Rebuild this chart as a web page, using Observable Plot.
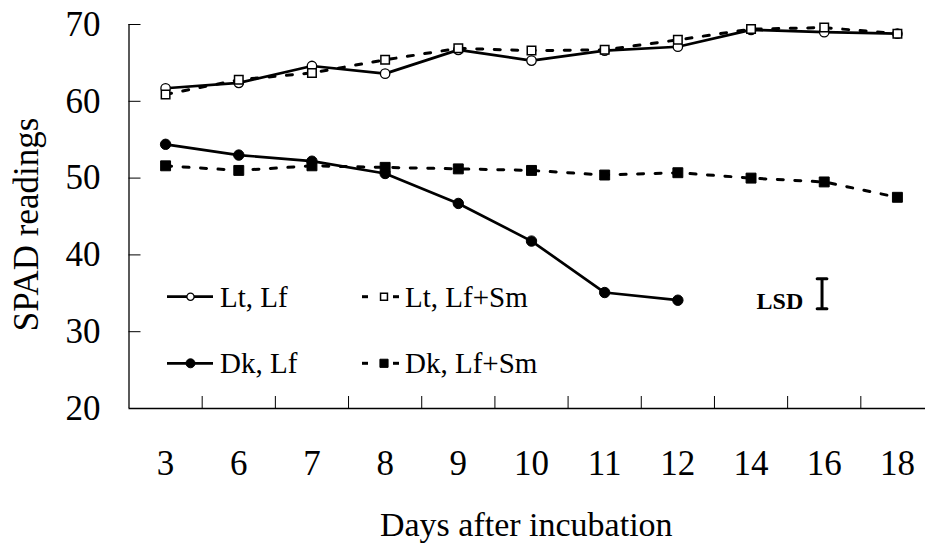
<!DOCTYPE html>
<html>
<head>
<meta charset="utf-8">
<script src="https://cdn.jsdelivr.net/npm/d3@7"></script>
<script src="https://cdn.jsdelivr.net/npm/@observablehq/plot@0.6"></script>
<style>
  html, body { margin: 0; padding: 0; background: white; }
</style>
</head>
<body>
<div id="chart"></div>
<script>
// ---- data ----
const days = ["3", "6", "7", "8", "9", "10", "11", "12", "14", "16", "18"];
const seriesNames = ["Lt, Lf", "Lt, Lf+Sm", "Dk, Lf", "Dk, Lf+Sm"];
const ltLf   = [61.7, 62.4, 64.6, 63.6, 66.7, 65.3, 66.6, 67.1, 69.3, 69.0, 68.8];
const ltLfSm = [60.9, 62.8, 63.7, 65.4, 66.9, 66.6, 66.7, 68.0, 69.4, 69.6, 68.8];
const dkLf   = [54.4, 53.0, 52.2, 50.6, 46.7, 41.8, 35.1, 34.1];
const dkLfSm = [51.6, 51.0, 51.6, 51.4, 51.2, 51.0, 50.4, 50.7, 50.0, 49.5, 47.5];
const yTicks = [20, 30, 40, 50, 60, 70];
const lsdDay = "16";
const lsdLow = 33.0;
const lsdHigh = 36.9;
const lsdLabel = "LSD";
const xTitle = "Days after incubation";
const yTitle = "SPAD readings";

// ---- layout ----
const FONT = "Liberation Serif, Times New Roman, serif";
const W = 925, H = 544;
const mL = 128.5, mR = 0, mT = 24, mB = 136;
const frameW = W - mL - mR, frameH = H - mT - mB;
const TICK = 12;

const seriesValues = [ltLf, ltLfSm, dkLf, dkLfSm];
const pos = d => days.indexOf(d) + 0.5;
const rows = seriesValues.map((vals, s) =>
  vals.map((v, i) => ({series: seriesNames[s], x: i + 0.5, y: v}))
);

const styles = [
  {dash: null,     symbol: "circle", r: 4.7, fill: "white", sw: 1.3},
  {dash: "6,11.5", symbol: "square", r: 4.8, fill: "white", sw: 1.5},
  {dash: null,     symbol: "circle", r: 5.2, fill: "black", sw: 1},
  {dash: "6,11.5", symbol: "square", r: 5.6, fill: "black", sw: 1}
];

const lineMarks = rows.map((data, s) => Plot.line(data, {
  x: "x", y: "y", stroke: "black",
  strokeWidth: styles[s].dash ? 3 : 2.7,
  strokeDasharray: styles[s].dash || undefined
}));
const dotMarks = rows.map((data, s) => Plot.dot(data, {
  x: "x", y: "y", symbol: styles[s].symbol, r: styles[s].r,
  fill: styles[s].fill, stroke: "black", strokeWidth: styles[s].sw
}));

const hline = {draw(ctx, size) { const w = Math.sqrt(size); ctx.moveTo(-w / 2, 0); ctx.lineTo(w / 2, 0); }};

// legend drawn inside the frame
function legendMark() {
  const g = d3.create("svg:g")
    .attr("font-family", FONT).attr("font-size", 29).attr("text-anchor", "start");
  const colLine = [[167, 213], [362, 399]], colMark = [190.5, 384], colText = [220, 405];
  seriesNames.forEach((name, i) => {
    const col = i % 2, row = Math.floor(i / 2);
    const y = 296.7 + row * 66.6;
    const st = styles[i];
    if (st.dash) {
      g.append("line").attr("x1", colLine[col][0]).attr("x2", colLine[col][0] + 6).attr("y1", y).attr("y2", y)
        .attr("stroke", "black").attr("stroke-width", 3);
      g.append("line").attr("x1", colLine[col][1] - 6).attr("x2", colLine[col][1]).attr("y1", y).attr("y2", y)
        .attr("stroke", "black").attr("stroke-width", 3);
    } else {
      g.append("line").attr("x1", colLine[col][0]).attr("x2", colLine[col][1]).attr("y1", y).attr("y2", y)
        .attr("stroke", "black").attr("stroke-width", 2.7);
    }
    const sym = st.symbol === "circle" ? d3.symbolCircle : d3.symbolSquare;
    const r = st.symbol === "circle" ? (st.fill === "white" ? 3.6 : 4.5) : (st.fill === "white" ? 3.9 : 4.6);
    g.append("path").attr("d", d3.symbol(sym, r * r * Math.PI)())
      .attr("transform", `translate(${colMark[col]},${y})`)
      .attr("fill", st.fill).attr("stroke", "black").attr("stroke-width", st.sw);
    g.append("text").attr("x", colText[col]).attr("y", y + 10)
      .attr("fill", "black").attr("text-anchor", "start").text(name);
  });
  return g.node();
}

const chart = Plot.plot({
  width: W, height: H,
  marginLeft: mL, marginRight: mR, marginTop: mT, marginBottom: mB,
  style: {fontFamily: FONT, background: "white", color: "black"},
  x: {domain: [0, days.length], range: [mL, mL + days.length * (805 / 11)], axis: null},
  y: {domain: [20, 70], axis: null},
  marks: [
    // axes lines
    Plot.ruleX([0], {stroke: "black", strokeWidth: 1.3}),
    Plot.ruleY([20], {stroke: "black", strokeWidth: 1.6}),
    // inward ticks
    Plot.tickX(d3.range(1, days.length), {x: d => d, stroke: "black", strokeWidth: 1, insetTop: frameH - TICK}),
    Plot.tickY(yTicks.filter(d => d > 20), {y: d => d, stroke: "black", strokeWidth: 1, insetRight: frameW - TICK}),
    // tick labels
    Plot.axisX(days.map(pos), {tickSize: 0, tickPadding: 42, fontSize: 35, tickFormat: d => days[Math.floor(d)], label: null}),
    Plot.axisY(yTicks, {tickSize: 0, tickPadding: 28.5, fontSize: 35, label: null}),
    // axis titles
    Plot.text([yTitle], {frameAnchor: "left", rotate: -90, textAnchor: "middle", lineAnchor: "middle",
      dx: 26 - mL, dy: 8, fontSize: 35, fill: "black"}),
    Plot.text([xTitle], {frameAnchor: "bottom", textAnchor: "middle", lineAnchor: "middle",
      dx: -1, dy: 116.5, fontSize: 34, fill: "black"}),
    // series
    ...lineMarks,
    ...dotMarks,
    // LSD bar
    Plot.ruleX([lsdDay], {x: d => pos(d) - 0.03, y1: lsdLow, y2: lsdHigh, stroke: "black", strokeWidth: 3}),
    Plot.dot([lsdLow, lsdHigh], {x: () => pos(lsdDay) - 0.03, y: d => d, symbol: hline, r: 5.5,
      stroke: "black", strokeWidth: 3, strokeLinecap: "round"}),
    Plot.text([lsdLabel], {x: () => pos(lsdDay), y: () => lsdLow, textAnchor: "end", lineAnchor: "bottom",
      dx: -21, fontSize: 24, fontWeight: "bold", fill: "black"}),
    // legend
    legendMark
  ]
});
document.getElementById("chart").appendChild(chart);
</script>
</body>
</html>
